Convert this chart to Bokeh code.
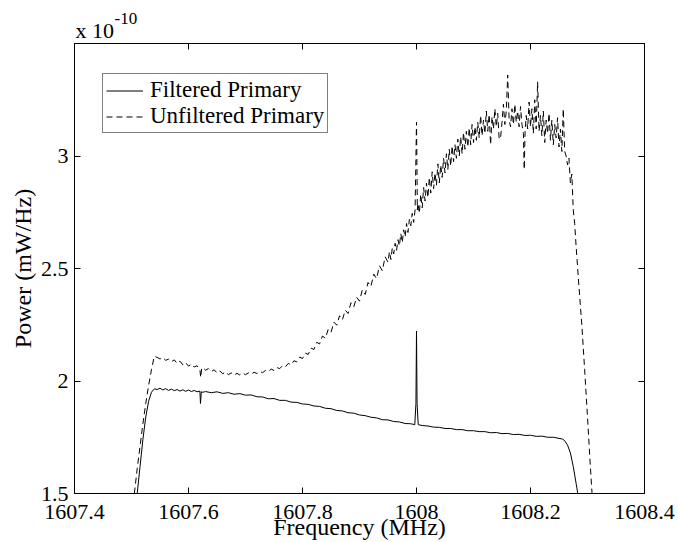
from bokeh.plotting import figure
from bokeh.models import Range1d, LinearAxis, FixedTicker, Legend, LegendItem, Title
from bokeh.embed import file_html
from bokeh.resources import INLINE

# ---------------- data (power in units of 1e-10 mW/Hz) ----------------
filt_freq = [
    1607.510, 1607.515, 1607.520, 1607.525, 1607.530, 1607.535, 1607.540, 1607.545,
    1607.550, 1607.555, 1607.560, 1607.565, 1607.570, 1607.575, 1607.580, 1607.585,
    1607.590, 1607.595, 1607.600, 1607.605, 1607.610, 1607.615, 1607.620, 1607.621,
    1607.6225, 1607.625, 1607.63, 1607.64, 1607.65, 1607.66, 1607.67, 1607.68,
    1607.69, 1607.70, 1607.71, 1607.72, 1607.73, 1607.74, 1607.75, 1607.76,
    1607.77, 1607.78, 1607.79, 1607.80, 1607.81, 1607.82, 1607.83, 1607.84,
    1607.85, 1607.86, 1607.87, 1607.88, 1607.89, 1607.90, 1607.91, 1607.92,
    1607.93, 1607.94, 1607.95, 1607.96, 1607.97, 1607.98, 1607.99, 1607.997,
    1607.999, 1608.000, 1608.001, 1608.003, 1608.01, 1608.02, 1608.03, 1608.04,
    1608.05, 1608.06, 1608.07, 1608.08, 1608.09, 1608.10, 1608.11, 1608.12,
    1608.13, 1608.14, 1608.15, 1608.16, 1608.17, 1608.18, 1608.19, 1608.20,
    1608.21, 1608.22, 1608.23, 1608.24, 1608.25, 1608.256, 1608.260, 1608.265,
    1608.270, 1608.275, 1608.280, 1608.283,
]
filt_power = [
    1.500, 1.620, 1.740, 1.840, 1.910, 1.950, 1.965, 1.962,
    1.968, 1.960, 1.966, 1.958, 1.964, 1.957, 1.962, 1.955,
    1.961, 1.954, 1.960, 1.953, 1.958, 1.952, 1.955, 1.900,
    1.952, 1.950, 1.953, 1.948, 1.952, 1.945, 1.948, 1.941,
    1.944, 1.937, 1.938, 1.930, 1.929, 1.921, 1.922, 1.914,
    1.914, 1.906, 1.905, 1.898, 1.896, 1.889, 1.887, 1.879,
    1.877, 1.869, 1.867, 1.859, 1.857, 1.849, 1.846, 1.839,
    1.836, 1.828, 1.827, 1.820, 1.818, 1.811, 1.810, 1.806,
    1.900, 2.222, 1.900, 1.806, 1.802, 1.800, 1.795, 1.794,
    1.789, 1.789, 1.784, 1.784, 1.779, 1.779, 1.775, 1.775,
    1.770, 1.771, 1.766, 1.767, 1.762, 1.763, 1.758, 1.759,
    1.754, 1.755, 1.750, 1.750, 1.745, 1.742, 1.735, 1.715,
    1.680, 1.620, 1.545, 1.500,
]

unf_freq = [
    1607.505, 1607.510, 1607.515, 1607.520, 1607.525, 1607.530, 1607.535, 1607.540,
    1607.545, 1607.550, 1607.555, 1607.560, 1607.565, 1607.570, 1607.575, 1607.580,
    1607.585, 1607.590, 1607.595, 1607.600, 1607.605, 1607.610, 1607.615, 1607.620,
    1607.6215, 1607.623, 1607.625, 1607.630, 1607.635, 1607.640, 1607.645, 1607.650,
    1607.655, 1607.660, 1607.665, 1607.670, 1607.675, 1607.680, 1607.685, 1607.690,
    1607.695, 1607.700, 1607.705, 1607.710, 1607.715, 1607.720, 1607.725, 1607.730,
    1607.735, 1607.740, 1607.745, 1607.750, 1607.755, 1607.760, 1607.765, 1607.770,
    1607.775, 1607.780, 1607.785, 1607.790, 1607.795, 1607.800, 1607.805, 1607.810,
    1607.815, 1607.820, 1607.825, 1607.830, 1607.835, 1607.840, 1607.845, 1607.850,
    1607.855, 1607.860, 1607.865, 1607.870, 1607.875, 1607.880, 1607.885, 1607.890,
    1607.895, 1607.900, 1607.905, 1607.910, 1607.915, 1607.920, 1607.925, 1607.930,
    1607.935, 1607.940, 1607.945, 1607.950,
    1607.9525, 1607.955, 1607.9575, 1607.960, 1607.9625, 1607.965, 1607.9675, 1607.970,
    1607.9725, 1607.975, 1607.9775, 1607.980, 1607.9825, 1607.985, 1607.9875, 1607.990,
    1607.9925, 1607.995, 1607.9975, 1608.000, 1608.0015, 1608.0025, 1608.005, 1608.0075,
    1608.010, 1608.0125, 1608.015, 1608.0175, 1608.020, 1608.0225, 1608.025, 1608.0275,
    1608.030, 1608.0325, 1608.035, 1608.0375, 1608.040, 1608.0425, 1608.045, 1608.0475,
    1608.050, 1608.0525, 1608.055, 1608.0575, 1608.060, 1608.0625, 1608.065, 1608.0675,
    1608.070, 1608.0725, 1608.075, 1608.0775, 1608.080, 1608.0825, 1608.085, 1608.0875,
    1608.090, 1608.0925, 1608.095, 1608.0975, 1608.100, 1608.1025, 1608.105, 1608.1075,
    1608.110, 1608.1125, 1608.115, 1608.1175, 1608.120, 1608.1225, 1608.125, 1608.1275,
    1608.130, 1608.1325, 1608.135, 1608.1375, 1608.140, 1608.1425, 1608.145, 1608.1475,
    1608.150, 1608.1525, 1608.155, 1608.1575, 1608.160, 1608.1625, 1608.165, 1608.1675,
    1608.170, 1608.1725, 1608.175, 1608.1775, 1608.180, 1608.1825, 1608.185, 1608.1875,
    1608.189, 1608.1905, 1608.1925, 1608.195, 1608.1975, 1608.200, 1608.2025, 1608.205,
    1608.2075, 1608.210, 1608.2125, 1608.215, 1608.2175, 1608.220, 1608.2225, 1608.225,
    1608.2275, 1608.230, 1608.2325, 1608.235, 1608.2375, 1608.240, 1608.2425, 1608.245,
    1608.2475, 1608.250, 1608.2525, 1608.255, 1608.2575, 1608.260, 1608.2625, 1608.265,
    1608.2675, 1608.270, 1608.2725, 1608.275, 1608.2775, 1608.280, 1608.285, 1608.290,
    1608.295, 1608.300, 1608.305, 1608.308,
]
unf_power = [
    1.500, 1.610, 1.710, 1.810, 1.900, 1.980, 2.050, 2.110,
    2.105, 2.098, 2.104, 2.092, 2.097, 2.085, 2.094, 2.078,
    2.088, 2.072, 2.082, 2.066, 2.075, 2.062, 2.068, 2.050,
    2.015, 2.055, 2.060, 2.048, 2.055, 2.042, 2.050, 2.036,
    2.045, 2.032, 2.040, 2.028, 2.036, 2.026, 2.034, 2.027,
    2.035, 2.028, 2.036, 2.030, 2.039, 2.033, 2.042, 2.037,
    2.047, 2.041, 2.053, 2.047, 2.060, 2.055, 2.068, 2.063,
    2.078, 2.072, 2.090, 2.085, 2.106, 2.100, 2.124, 2.118,
    2.146, 2.140, 2.172, 2.165, 2.200, 2.190, 2.228, 2.215,
    2.262, 2.248, 2.290, 2.272, 2.315, 2.300, 2.348, 2.330,
    2.372, 2.355, 2.405, 2.385, 2.438, 2.420, 2.475, 2.455,
    2.512, 2.490, 2.552, 2.528,
    2.575, 2.540, 2.590, 2.565, 2.612, 2.580, 2.628, 2.600,
    2.655, 2.615, 2.672, 2.640, 2.700, 2.660, 2.718, 2.690,
    2.745, 2.705, 2.760, 3.150, 2.760, 2.790, 2.745, 2.830,
    2.770, 2.860, 2.800, 2.880, 2.815, 2.905, 2.835, 2.930,
    2.855, 2.925, 2.870, 2.965, 2.880, 2.960, 2.905, 2.990,
    2.925, 3.010, 2.940, 3.030, 2.955, 3.045, 2.975, 3.050,
    2.990, 3.075, 3.000, 3.085, 3.010, 3.105, 3.030, 3.110,
    3.040, 3.125, 3.050, 3.140, 3.060, 3.130, 3.070, 3.150,
    3.080, 3.180, 3.090, 3.160, 3.100, 3.200, 3.110, 3.185,
    3.050, 3.175, 3.120, 3.210, 3.130, 3.190, 3.075, 3.080,
    3.150, 3.230, 3.140, 3.200, 3.360, 3.160, 3.130, 3.210,
    3.140, 3.230, 3.150, 3.200, 3.130, 3.220, 3.140, 3.100,
    2.940, 3.110, 3.180, 3.120, 3.240, 3.130, 3.210, 3.100,
    3.250, 3.120, 3.330, 3.110, 3.180, 3.090, 3.200, 3.060,
    3.160, 3.100, 3.190, 3.070, 3.160, 3.050, 3.140, 3.080,
    3.170, 3.040, 3.120, 3.020, 3.210, 3.020, 3.000, 2.960,
    2.990, 2.880, 2.920, 2.760, 2.700, 2.600, 2.420, 2.250,
    2.050, 1.840, 1.620, 1.500,
]

x_ticks = [1607.4, 1607.6, 1607.8, 1608.0, 1608.2, 1608.4]
x_tick_labels = ["1607.4", "1607.6", "1607.8", "1608", "1608.2", "1608.4"]
y_ticks = [1.5, 2.0, 2.5, 3.0]
y_tick_labels = ["1.5", "2", "2.5", "3"]

series_names = ["Filtered Primary", "Unfiltered Primary"]
x_label = "Frequency (MHz)"
y_label = "Power (mW/Hz)"
exponent_base = "x 10"
exponent_power = "-10"

# ---------------- figure ----------------
FONT = "Liberation Serif"

p = figure(width=678, height=542, output_backend="svg", toolbar_location=None,
           x_range=Range1d(1607.4, 1608.4), y_range=Range1d(1.5, 3.5),
           min_border_left=74, min_border_right=34, min_border_top=43, min_border_bottom=49,
           x_axis_label=x_label, y_axis_label=y_label)
p.background_fill_color = "white"
p.border_fill_color = "white"
p.outline_line_color = "black"
p.outline_line_width = 1
p.grid.visible = False

r_filt = p.line(filt_freq, filt_power, line_color="black", line_width=1)
r_unf = p.line(unf_freq, unf_power, line_color="black", line_width=1, line_dash="6 4")

def style_axis(ax, ticks, labels, show_labels=True):
    ax.ticker = FixedTicker(ticks=ticks)
    ax.minor_tick_line_color = None
    ax.major_tick_in = 6
    ax.major_tick_out = 0
    ax.major_tick_line_color = "black"
    ax.axis_line_color = "black"
    if show_labels:
        ax.major_label_overrides = {t: l for t, l in zip(ticks, labels)}
        ax.major_label_text_font = FONT
        ax.major_label_text_font_size = "22px"
        ax.major_label_text_color = "black"
    else:
        ax.major_label_text_color = None
        ax.major_label_text_font_size = "0px"
        ax.major_label_standoff = 0

xa = p.xaxis[0]
ya = p.yaxis[0]
style_axis(xa, x_ticks, x_tick_labels)
style_axis(ya, y_ticks, y_tick_labels)
xa.major_label_standoff = 11
ya.major_label_standoff = 6
for ax in (xa, ya):
    ax.axis_label_text_font = FONT
    ax.axis_label_text_font_size = "24px"
    ax.axis_label_text_font_style = "normal"
    ax.axis_label_text_color = "black"
xa.axis_label_standoff = -8
ya.axis_label_standoff = 2

top_ax = LinearAxis()
right_ax = LinearAxis()
style_axis(top_ax, x_ticks, x_tick_labels, show_labels=False)
style_axis(right_ax, y_ticks, y_tick_labels, show_labels=False)
p.add_layout(top_ax, "above")
p.add_layout(right_ax, "right")

# exponent marker "x 10^-10" at the top-left, as two stacked titles
t_base = Title(text=exponent_base, align="left", offset=1, standoff=2,
               text_font=FONT, text_font_size="22px", text_font_style="normal",
               text_color="black")
t_pow = Title(text=exponent_power, align="left", offset=40, standoff=-19,
              text_font=FONT, text_font_size="17px", text_font_style="normal",
              text_color="black")
p.add_layout(t_base, "above")
p.add_layout(t_pow, "above")

legend = Legend(items=[LegendItem(label=series_names[0], renderers=[r_filt]),
                       LegendItem(label=series_names[1], renderers=[r_unf])],
                location=(28, 360))
legend.label_text_font = FONT
legend.label_text_font_size = "23px"
legend.label_text_color = "black"
legend.border_line_color = "black"
legend.border_line_width = 1
legend.background_fill_color = "white"
legend.background_fill_alpha = 1.0
legend.padding = 3
legend.spacing = 0
legend.margin = 0
legend.label_height = 23
legend.glyph_height = 23
legend.glyph_width = 37
legend.label_standoff = 7
p.add_layout(legend, "center")

open("out.html", "w").write(file_html(p, INLINE))
